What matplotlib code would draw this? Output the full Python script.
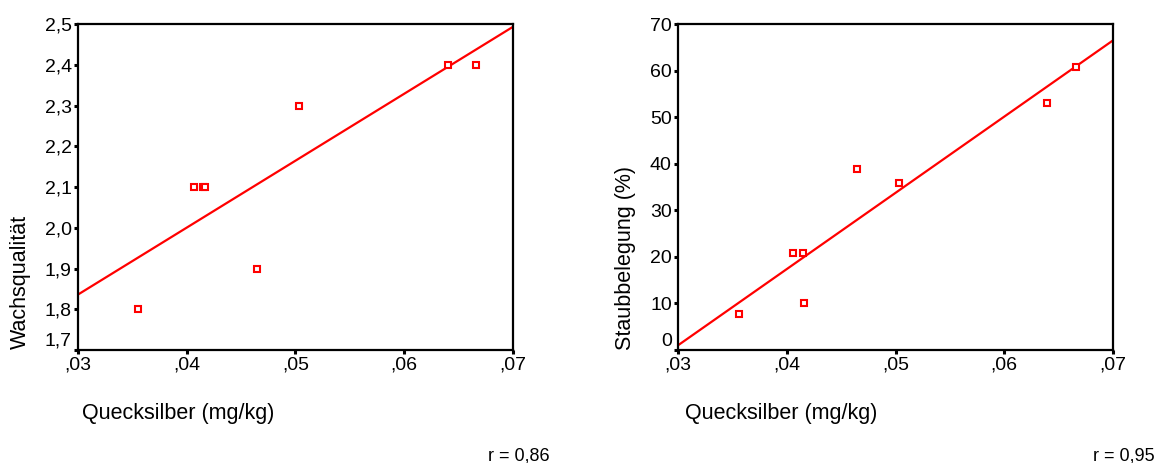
import numpy as np
import matplotlib
matplotlib.use('Agg')
import matplotlib.pyplot as plt

plt.rcParams['font.family'] = ['Liberation Sans', 'DejaVu Sans']

# Mercury content (mg/kg), same samples in both panels
quecksilber_wachs = [0.0355, 0.0407, 0.0415, 0.0417, 0.0465, 0.0503, 0.0640, 0.0666]
wachsqualitaet = [1.8, 2.1, 2.1, 2.1, 1.9, 2.3, 2.4, 2.4]

quecksilber_staub = [0.0356, 0.0406, 0.0415, 0.0416, 0.0465, 0.0503, 0.0639, 0.0666]
staubbelegung = [7.8, 20.8, 20.8, 10.0, 38.9, 35.8, 53.1, 60.8]

x_ticks = [0.03, 0.04, 0.05, 0.06, 0.07]
x_ticklabels = [',03', ',04', ',05', ',06', ',07']
wachs_ticks = [1.7, 1.8, 1.9, 2.0, 2.1, 2.2, 2.3, 2.4, 2.5]
wachs_ticklabels = ['1,7', '1,8', '1,9', '2,0', '2,1', '2,2', '2,3', '2,4', '2,5']
staub_ticks = [0, 10, 20, 30, 40, 50, 60, 70]
staub_ticklabels = ['0', '10', '20', '30', '40', '50', '60', '70']

fig = plt.figure(figsize=(11.67, 4.63), dpi=100)


def scatter_panel(ax, x, y, yticks, yticklabels):
    ax.plot(x, y, linestyle='none', marker='s', markersize=4.2,
            markerfacecolor='white', markeredgecolor='red', markeredgewidth=1.5,
            zorder=3)
    # linear fit line across the full x range
    slope, intercept = np.polyfit(x, y, 1)
    xs = np.array([x_ticks[0], x_ticks[-1]])
    ax.plot(xs, slope * xs + intercept, color='red', linewidth=1.6, zorder=2)

    ax.set_xlim(x_ticks[0], x_ticks[-1])
    ax.set_ylim(yticks[0], yticks[-1])
    ax.set_xticks(x_ticks)
    ax.set_xticklabels(x_ticklabels)
    ax.set_yticks(yticks)
    ax.set_yticklabels(yticklabels)
    for s in ax.spines.values():
        s.set_linewidth(1.6)
    ax.tick_params(direction='out', length=3, width=2.2, labelsize=14, pad=1.5)
    # lowest y label sits just above the bottom tick
    lab = ax.get_yticklabels()[0]
    lab.set_verticalalignment('bottom')


ax1 = fig.add_axes([78 / 1167, 113 / 463, 435 / 1167, 326 / 463])
scatter_panel(ax1, quecksilber_wachs, wachsqualitaet, wachs_ticks, wachs_ticklabels)

ax2 = fig.add_axes([678 / 1167, 113 / 463, 435 / 1167, 326 / 463])
scatter_panel(ax2, quecksilber_staub, staubbelegung, staub_ticks, staub_ticklabels)

# axis titles and correlation notes, placed as in the original output
fig.text(82 / 1167, 1 - 414 / 463, 'Quecksilber (mg/kg)', fontsize=15.5, va='center', ha='left')
fig.text(685 / 1167, 1 - 414 / 463, 'Quecksilber (mg/kg)', fontsize=15.5, va='center', ha='left')
fig.text(20 / 1167, 1 - 282 / 463, 'Wachsqualität', fontsize=15.5, rotation=90, va='center', ha='center')
fig.text(626 / 1167, 1 - 258 / 463, 'Staubbelegung (%)', fontsize=15.5, rotation=90, va='center', ha='center')
fig.text(550 / 1167, 1 - 456 / 463, 'r = 0,86', fontsize=13, va='center', ha='right')
fig.text(1155 / 1167, 1 - 456 / 463, 'r = 0,95', fontsize=13, va='center', ha='right')

fig.savefig('out.png', dpi=100)
